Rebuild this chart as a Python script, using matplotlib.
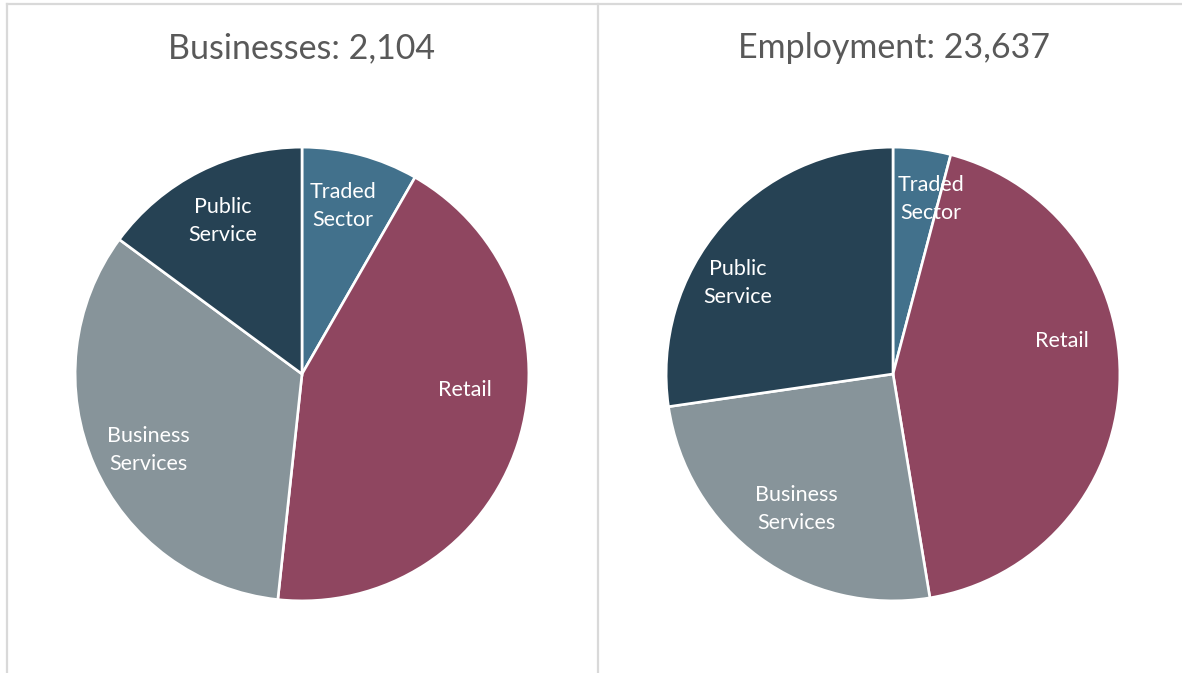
import matplotlib
matplotlib.use('Agg')
import matplotlib.pyplot as plt
from matplotlib.lines import Line2D

# data
sectors = ['Traded\nSector', 'Retail', 'Business\nServices', 'Public\nService']
businesses = [8.3, 43.4, 33.4, 14.9]
employment = [4.1, 43.3, 25.3, 27.3]
titles = ['Businesses: 2,104', 'Employment: 23,637']
colors = ['#42718c', '#8f4660', '#87949a', '#264254']

# label anchor points inside each pie (in units of the radius), as Excel placed them
label_xy = [
    [(0.18, 0.74), (0.72, -0.07), (-0.675, -0.335), (-0.35, 0.675)],
    [(0.167, 0.77), (0.746, 0.145), (-0.425, -0.596), (-0.684, 0.40)],
]

plt.rcParams['font.family'] = ['Lato', 'DejaVu Sans']

W, H = 1182, 673
fig = plt.figure(figsize=(W / 100, H / 100), dpi=100)

# pixel layout of the two pies (centre x, centre y, radius) and titles
pies = [(302, 374, 228), (893, 374, 228)]
title_pos = [(302, 48), (894, 48)]

for vals, (cx, cy, r), title, (tx, ty), lxy in zip([businesses, employment], pies,
                                                   titles, title_pos, label_xy):
    ax = fig.add_axes([(cx - r) / W, (H - cy - r) / H, 2 * r / W, 2 * r / H])
    ax.pie(vals, colors=colors, startangle=90, counterclock=False, radius=1.0,
           wedgeprops=dict(edgecolor='white', linewidth=1.9))
    for name, (lx, ly) in zip(sectors, lxy):
        ax.text(lx, ly, name, ha='center', va='center', color='white',
                fontsize=15.5, linespacing=1.5)
    ax.set_xlim(-1.005, 1.005)
    ax.set_ylim(-1.005, 1.005)
    ax.set_aspect('equal')
    ax.axis('off')
    fig.text(tx / W, 1 - ty / H, title, ha='center', va='center',
             fontsize=24.5, color='#595959')

# panel frame lines
line_kw = dict(color='#d9d9d9', linewidth=1.6, transform=fig.transFigure)
fig.add_artist(Line2D([7 / W, 1], [1 - 4 / H, 1 - 4 / H], **line_kw))
fig.add_artist(Line2D([7 / W, 7 / W], [0, 1 - 4 / H], **line_kw))
fig.add_artist(Line2D([598 / W, 598 / W], [0, 1 - 4 / H], **line_kw))

fig.savefig('out.png', dpi=100, facecolor='white')
